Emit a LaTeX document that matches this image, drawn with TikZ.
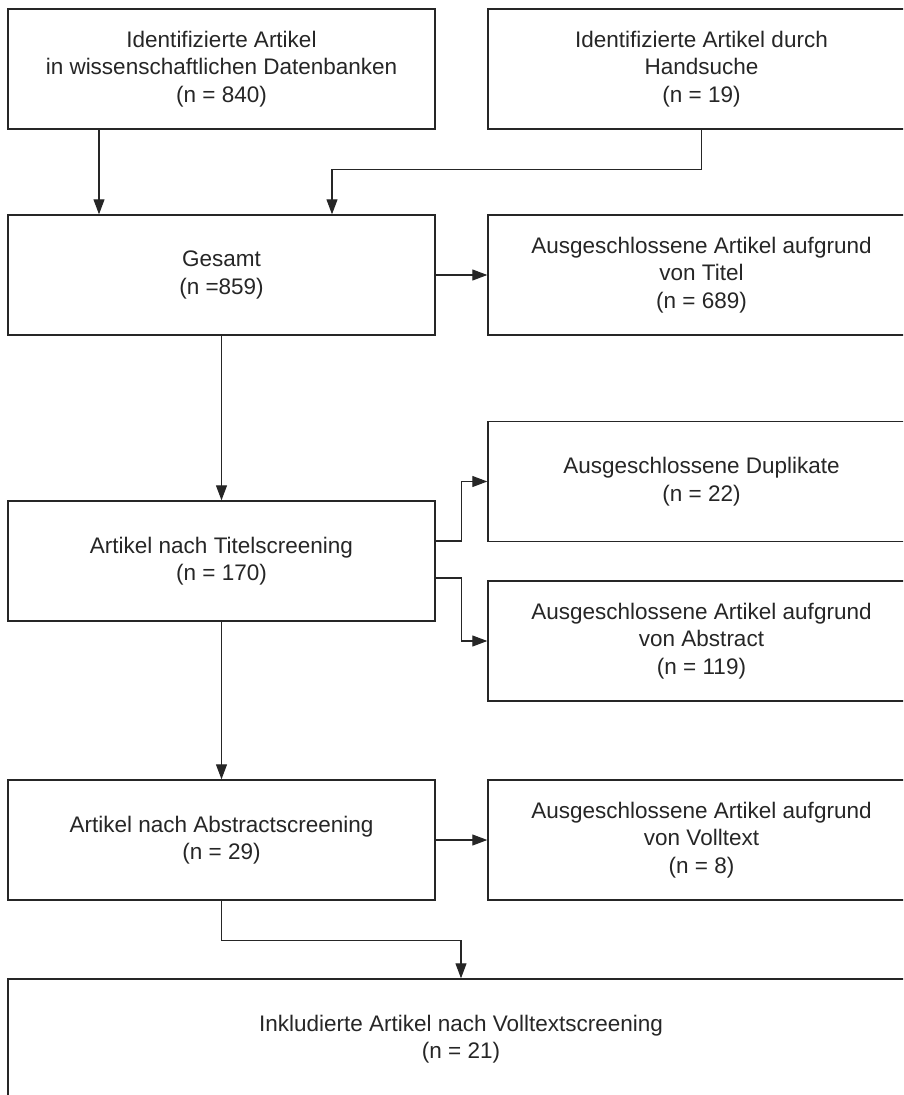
\documentclass[tikz,border=0pt]{standalone}
\usepackage{fontspec}
\setmainfont{Liberation Sans}
\usetikzlibrary{arrows.meta}

\begin{document}
\begin{tikzpicture}[x=1pt,y=-1pt,
  box/.style={draw=black!85, line width=1.4pt, minimum width=427pt,
              minimum height=120pt, inner sep=0pt, align=center,
              text=black!85, font=\fontsize{22.5}{27.5}\selectfont},
  arr/.style={draw=black!85, line width=1.1pt,
              -{Triangle[length=15pt,width=11pt]}}]
  % page frame (right column is cut by the page edge)
  \fill[white] (0,0) rectangle (903,1095);
  \useasboundingbox (0,0) rectangle (903,1095);
  \clip (0,0) rectangle (903,1095);
  % left column: main flow
  \node[box] (db) at (221.5,69) {Identifizierte Artikel\\in wissenschaftlichen Datenbanken\\(n = 840)};
  \node[box] (gesamt) at (221.5,275) {Gesamt\\(n =859)};
  \node[box] (tscreen) at (221.5,561) {Artikel nach Titelscreening\\(n = 170)};
  \node[box] (ascreen) at (221.5,840) {Artikel nach Abstractscreening\\(n = 29)};
  % right column: hand search and exclusions
  \node[box] (hand) at (701.5,69) {Identifizierte Artikel durch\\Handsuche\\(n = 19)};
  \node[box] (titel) at (701.5,275) {Ausgeschlossene Artikel aufgrund\\von Titel\\(n = 689)};
  \node[box] (dup) at (701.5,481.5) {Ausgeschlossene Duplikate\\(n = 22)};
  \node[box] (abstract) at (701.5,641) {Ausgeschlossene Artikel aufgrund\\von Abstract\\(n = 119)};
  \node[box] (volltext) at (701.5,840) {Ausgeschlossene Artikel aufgrund\\von Volltext\\(n = 8)};
  % final box over full width
  \node[box, minimum width=906pt] (inkl) at (461,1039) {Inkludierte Artikel nach Volltextscreening\\(n = 21)};
  % connectors
  \draw[arr] ([xshift=-122.5pt]db.south) -- ([xshift=-122.5pt]gesamt.north);
  \draw[arr] (hand.south) -- ++(0,40) -| ([xshift=110.5pt]gesamt.north);
  \draw[arr] (gesamt.east) -- (titel.west);
  \draw[arr] (gesamt.south) -- (tscreen.north);
  \draw[arr] ([yshift=20pt]tscreen.east) -- ++(26,0) |- (dup.west);
  \draw[arr] ([yshift=-17pt]tscreen.east) -- ++(26,0) |- (abstract.west);
  \draw[arr] (tscreen.south) -- (ascreen.north);
  \draw[arr] (ascreen.east) -- (volltext.west);
  \draw[arr] (ascreen.south) -- ++(0,40) -| (inkl.north);
\end{tikzpicture}
\end{document}
